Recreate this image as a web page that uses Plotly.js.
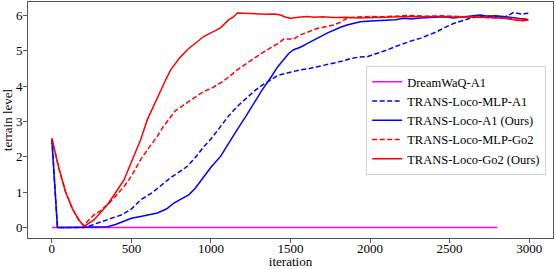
<!DOCTYPE html>
<html>
<head>
<meta charset="utf-8">
<script src="https://cdn.plot.ly/plotly-3.0.1.min.js"></script>
<style>html,body{margin:0;padding:0;background:#fff;}#chart{width:556px;height:269px;}</style>
</head>
<body>
<div id="chart"></div>
<script>
// ---- data ----
const seriesNames = ["DreamWaQ-A1", "TRANS-Loco-MLP-A1", "TRANS-Loco-A1 (Ours)", "TRANS-Loco-MLP-Go2", "TRANS-Loco-Go2 (Ours)"];

const dreamX = [0, 2800];
const dreamY = [0, 0];

const mlpA1X = [0, 15, 35, 100, 200, 253, 300, 349, 400, 441, 500, 558, 630, 692, 750, 818, 851, 902, 956, 1000, 1060, 1110, 1165, 1220, 1270, 1320, 1374, 1420, 1479, 1520, 1562, 1620, 1667, 1720, 1771, 1820, 1876, 1930, 1981, 2030, 2064, 2106, 2160, 2211, 2260, 2315, 2370, 2420, 2470, 2524, 2580, 2629, 2680, 2733, 2790, 2838, 2870, 2901, 2950, 2995];
const mlpA1Y = [2.5, 1.5, 0.0, 0.0, 0.0, 0.07, 0.14, 0.22, 0.3, 0.36, 0.52, 0.78, 0.98, 1.2, 1.42, 1.62, 1.73, 1.98, 2.29, 2.5, 2.86, 3.15, 3.42, 3.65, 3.85, 4.02, 4.18, 4.3, 4.37, 4.42, 4.46, 4.5, 4.55, 4.6, 4.64, 4.7, 4.78, 4.82, 4.83, 4.9, 4.95, 5.02, 5.12, 5.21, 5.28, 5.35, 5.44, 5.54, 5.66, 5.77, 5.85, 5.92, 5.96, 5.99, 5.96, 5.94, 6.0, 6.08, 6.04, 6.06];

const a1X = [0, 15, 35, 100, 200, 300, 349, 400, 454, 500, 558, 600, 663, 720, 767, 820, 860, 900, 956, 1000, 1060, 1110, 1165, 1220, 1270, 1320, 1374, 1420, 1458, 1490, 1520, 1562, 1604, 1650, 1688, 1730, 1771, 1810, 1855, 1900, 1939, 2002, 2064, 2110, 2160, 2211, 2260, 2315, 2370, 2420, 2470, 2524, 2580, 2630, 2692, 2740, 2790, 2838, 2900, 2950, 2995];
const a1Y = [2.5, 1.4, 0.0, 0.0, 0.0, 0.0, 0.02, 0.08, 0.17, 0.26, 0.31, 0.35, 0.41, 0.52, 0.69, 0.82, 0.92, 1.1, 1.44, 1.7, 2.01, 2.38, 2.77, 3.15, 3.52, 3.88, 4.23, 4.55, 4.75, 4.93, 5.03, 5.1, 5.2, 5.3, 5.4, 5.5, 5.59, 5.66, 5.73, 5.79, 5.82, 5.84, 5.85, 5.87, 5.88, 5.92, 5.9, 5.93, 5.94, 5.94, 5.96, 5.93, 5.95, 5.98, 6.01, 5.98, 5.99, 5.97, 5.93, 5.9, 5.88];

const mlpGo2X = [0, 44, 86, 128, 169, 200, 230, 266, 300, 328, 358, 400, 454, 500, 558, 609, 663, 700, 736, 776, 830, 880, 956, 1000, 1060, 1110, 1165, 1220, 1270, 1320, 1374, 1420, 1458, 1490, 1520, 1562, 1610, 1667, 1720, 1771, 1810, 1855, 1900, 1939, 2000, 2064, 2150, 2250, 2350, 2450, 2550, 2650, 2750, 2850, 2950, 2995];
const mlpGo2Y = [2.52, 1.67, 1.01, 0.54, 0.21, 0.05, 0.2, 0.36, 0.45, 0.55, 0.68, 0.88, 1.16, 1.45, 1.92, 2.25, 2.58, 2.85, 3.05, 3.3, 3.47, 3.62, 3.85, 3.93, 4.09, 4.25, 4.46, 4.63, 4.79, 4.93, 5.08, 5.2, 5.33, 5.32, 5.33, 5.45, 5.53, 5.63, 5.68, 5.73, 5.8, 5.92, 5.95, 5.96, 5.97, 5.96, 5.98, 6.0, 5.98, 5.99, 5.97, 5.96, 5.93, 5.92, 5.9, 5.9];

const go2X = [0, 44, 86, 128, 169, 203, 266, 300, 349, 400, 454, 500, 558, 600, 640, 682, 720, 747, 800, 851, 900, 956, 1018, 1060, 1112, 1140, 1165, 1200, 1249, 1300, 1353, 1400, 1437, 1470, 1500, 1550, 1604, 1650, 1700, 1771, 1850, 1920, 1981, 2050, 2150, 2250, 2350, 2450, 2550, 2650, 2750, 2850, 2920, 2960, 2995];
const go2Y = [2.52, 1.67, 1.01, 0.54, 0.21, 0.03, 0.22, 0.38, 0.64, 0.98, 1.35, 1.85, 2.48, 3.05, 3.45, 3.89, 4.22, 4.46, 4.78, 5.03, 5.2, 5.41, 5.55, 5.65, 5.88, 5.95, 6.07, 6.06, 6.06, 6.04, 6.03, 6.04, 6.01, 5.95, 5.92, 5.95, 5.97, 5.95, 5.96, 5.94, 5.95, 5.93, 5.94, 5.95, 5.96, 5.97, 5.96, 5.97, 5.95, 5.96, 5.94, 5.92, 5.86, 5.85, 5.87];

const xTicks = [0, 500, 1000, 1500, 2000, 2500, 3000];
const yTicks = [0, 1, 2, 3, 4, 5, 6];

// ---- chart ----
const FONT = "Liberation Serif, Times New Roman, serif";
function tr(x, y, name, color, dash) {
  return {x: x, y: y, name: name, type: "scatter", mode: "lines",
          line: {color: color, width: 1.5, dash: dash}};
}
const data = [
  tr(dreamX, dreamY, seriesNames[0], "#ff00ff", "solid"),
  tr(mlpA1X, mlpA1Y, seriesNames[1], "#0000ff", "5px,2.5px"),
  tr(a1X, a1Y, seriesNames[2], "#0000ff", "solid"),
  tr(mlpGo2X, mlpGo2Y, seriesNames[3], "#ff0000", "5px,2.5px"),
  tr(go2X, go2Y, seriesNames[4], "#ff0000", "solid")
];
const axisCommon = {
  showgrid: false, zeroline: false, showline: true, mirror: true,
  linecolor: "#555", linewidth: 1, ticks: "outside", ticklen: 4,
  tickcolor: "#555", tickwidth: 1, tickfont: {family: FONT, size: 13, color: "#000"}
};
const layout = {
  width: 556, height: 269,
  margin: {l: 28, r: 3, t: 2, b: 31},
  paper_bgcolor: "#fff", plot_bgcolor: "#fff",
  font: {family: FONT, size: 13, color: "#000"},
  xaxis: Object.assign({}, axisCommon, {
    range: [-150, 3150], tickvals: xTicks, ticktext: xTicks.map(String),
    ticklabelstandoff: -6,
    title: {text: "iteration", font: {family: FONT, size: 13}, standoff: 4}
  }),
  yaxis: Object.assign({}, axisCommon, {
    range: [-0.3, 6.38], tickvals: yTicks, ticktext: yTicks.map(String),
    ticklabelstandoff: -2,
    title: {text: "terrain level", font: {family: FONT, size: 13}, standoff: 4}
  }),
  showlegend: true,
  legend: {
    x: 0.987, xanchor: "right", y: 0.728, yanchor: "top",
    bgcolor: "rgba(255,255,255,0.8)", bordercolor: "#d0d0d0", borderwidth: 1,
    font: {family: FONT, size: 12.5, color: "#000"},
    tracegroupgap: 0
  }
};
Plotly.newPlot("chart", data, layout, {staticPlot: true, displayModeBar: false});
</script>
</body>
</html>
